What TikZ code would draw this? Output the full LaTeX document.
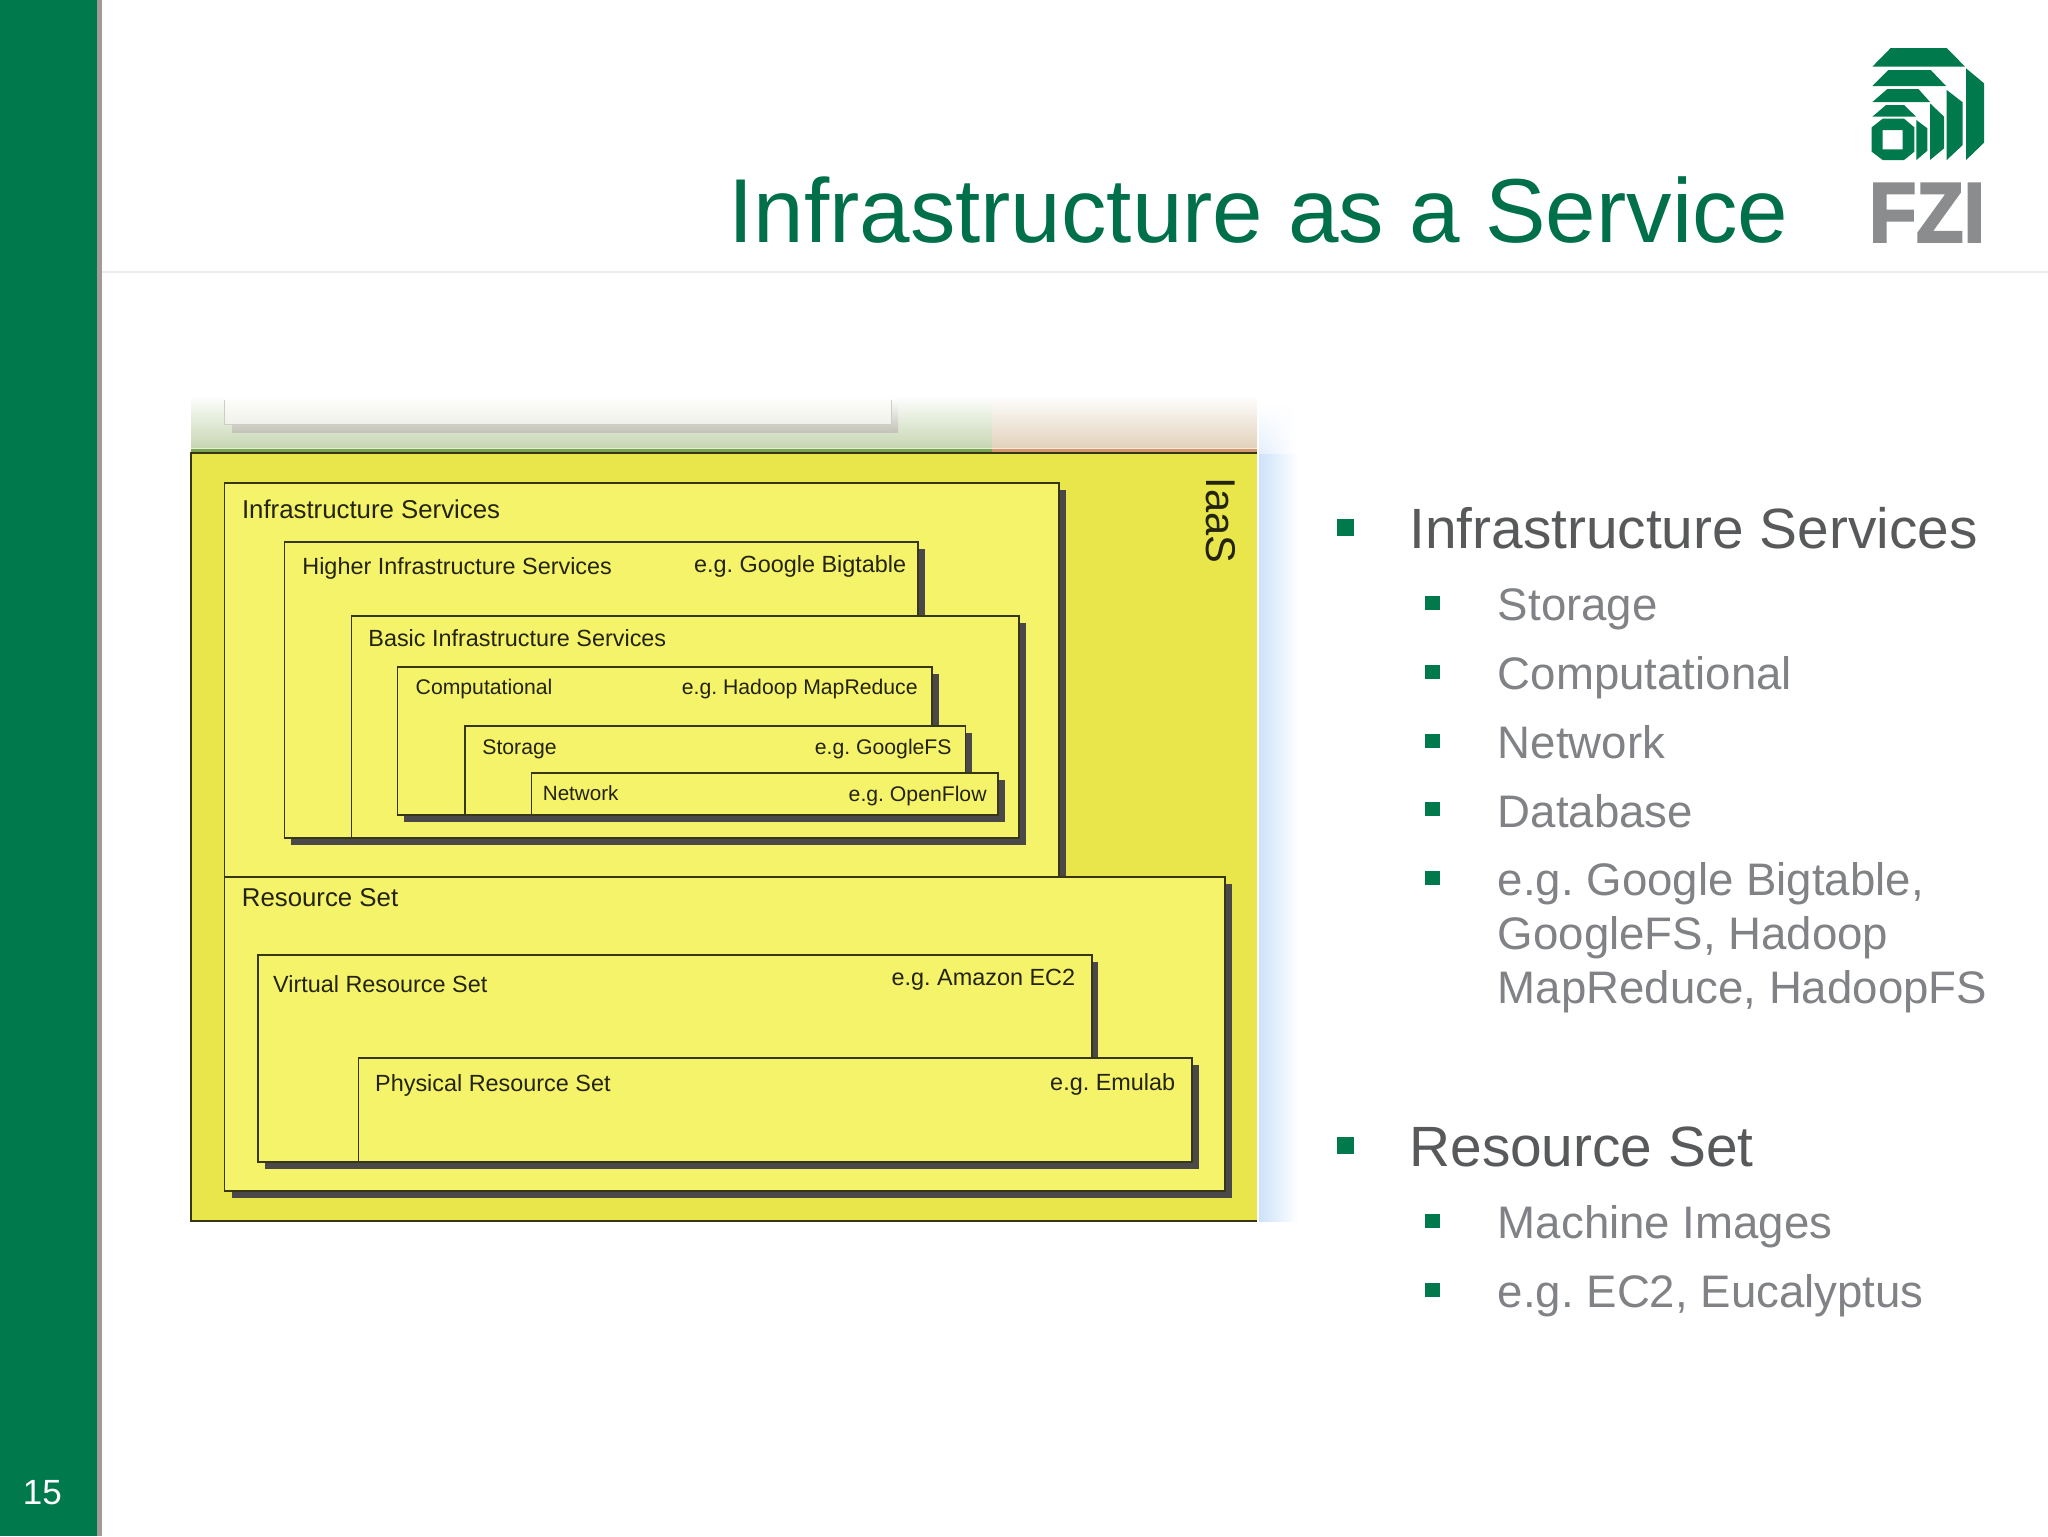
\documentclass[tikz,border=0pt]{standalone}
\usepackage{fontspec}
\usetikzlibrary{fadings}
\setmainfont{Liberation Sans}
\newfontfamily\fzifont{Liberation Sans}[BoldFeatures={FakeBold=3}]
\frenchspacing
\definecolor{fzigreen}{RGB}{0,122,77}
\definecolor{titlegreen}{RGB}{0,112,74}
\definecolor{barGrey}{RGB}{160,155,155}
\definecolor{ruleGrey}{RGB}{236,236,236}
\definecolor{headGrey}{RGB}{88,89,91}
\definecolor{subGrey}{RGB}{128,130,133}
\definecolor{outerY}{RGB}{232,230,74}
\definecolor{boxY}{RGB}{244,243,106}
\definecolor{boxLine}{RGB}{55,55,20}
\definecolor{shadowGrey}{RGB}{74,72,72}
\definecolor{diaText}{RGB}{35,35,15}
\definecolor{logoGrey}{RGB}{138,140,142}
\definecolor{fadeGreen}{RGB}{198,214,178}
\definecolor{fadeOrange}{RGB}{226,210,188}
\definecolor{fadeShadow}{RGB}{195,195,185}
\definecolor{fadeBox}{RGB}{240,241,232}
\definecolor{fadeEdge}{RGB}{205,205,195}
\definecolor{lineGreen}{RGB}{122,163,85}
\definecolor{lineOrange}{RGB}{212,152,110}
\definecolor{paleGreen}{RGB}{225,240,210}
\definecolor{paleOrange}{RGB}{248,232,220}
\definecolor{fadeBlue}{RGB}{205,226,250}
\definecolor{paleBlue}{RGB}{228,239,252}
\tikzset{
  label/.style={anchor=base west,inner sep=0pt,text=diaText},
  rlabel/.style={anchor=base east,inner sep=0pt,text=diaText},
  head/.style={anchor=base west,inner sep=0pt,text=headGrey,font=\fontsize{28.4pt}{33pt}\selectfont},
  sub/.style={anchor=base west,inner sep=0pt,text=subGrey,font=\fontsize{22.8pt}{27pt}\selectfont},
  yfill/.style={fill=boxY,draw=boxLine,line width=0.7pt},
  shadowf/.style={fill=shadowGrey},
  big/.style={font=\fontsize{12.9pt}{15pt}\selectfont},
  mid/.style={font=\fontsize{11.7pt}{14pt}\selectfont},
  small/.style={font=\fontsize{10.6pt}{13pt}\selectfont},
  logo/.style={fill=fzigreen},
}
% l, t, r, b, shadow offset
\newcommand{\ybox}[5]{%
  \fill[shadowf] ({#1+#5},{#2+#5}) rectangle ({#3+#5},{#4+#5});
  \draw[yfill] (#1,#2) rectangle (#3,#4);
}
\begin{document}
\begin{tikzpicture}[x=0.5pt,y=-0.5pt]
\useasboundingbox (0,0) rectangle (2048,1536);
\fill[white] (0,0) rectangle (2048,1536);

% side bar
\fill[fzigreen] (0,0) rectangle (97,1536);
\fill[barGrey] (97,0) rectangle (102,1536);
\node (pageno) [anchor=base west,inner sep=0pt,text=white,font=\fontsize{17.5pt}{20pt}\selectfont] at (22.5,1504) {15};

% title
\fill[ruleGrey] (102,270.5) rectangle (2048,273);
\node (title) [anchor=base west,inner sep=0pt,text=titlegreen,font=\fontsize{45.4pt}{50pt}\selectfont] at (728,242.7) {Infrastructure as a Service};

% logo
\begin{scope}[shift={(1800,20)},x=0.1667pt,y=-0.1667pt]
\fill[logo] (217,140) -- (272,84) -- (440,84) -- (495,140) -- cycle;
\fill[logo] (217,198) -- (265,150) -- (392,150) -- (438,198) -- cycle;
\fill[logo] (217,246) -- (262,207) -- (355,207) -- (390,246) -- cycle;
\fill[logo] (217,290) -- (258,255) -- (312,255) -- (348,290) -- cycle;
\fill[logo,even odd rule] (215,322) -- (248,296) -- (312,296) -- (343,322) -- (343,395) -- (312,420) -- (248,420) -- (215,395) -- cycle
  (248,330) rectangle (308,388);
\fill[logo] (498,145) -- (552,190) -- (552,368) -- (498,420) -- cycle;
\fill[logo] (440,210) -- (488,247) -- (488,375) -- (440,420) -- cycle;
\fill[logo] (390,250) -- (432,290) -- (432,385) -- (390,420) -- cycle;
\fill[logo] (349,300) -- (382,325) -- (382,392) -- (349,420) -- cycle;
\end{scope}
\node (fzi) [anchor=base,inner sep=0pt,text=logoGrey,xscale=0.92,font=\fzifont\bfseries\fontsize{42pt}{45pt}\selectfont] at (1927,241.5) {FZI};

% faded layers above and beside the IaaS block
\shade[top color=white,bottom color=fadeGreen] (191,395) rectangle (992,448);
\shade[top color=white,bottom color=fadeOrange] (992,395) rectangle (1257,448);
\shade[top color=white,bottom color=fadeShadow] (232,398) rectangle (898,432);
\shade[top color=white,bottom color=fadeBox] (224.6,395) rectangle (891,424);
\draw[line width=0.4pt,draw=fadeEdge] (224.6,400) -- (224.6,424) -- (891,424) -- (891,400);
\fill[paleGreen] (191,447.5) rectangle (992,449);
\fill[paleOrange] (992,447.5) rectangle (1257,449);
\fill[lineGreen] (191,449) rectangle (992,453);
\fill[lineOrange] (992,449) rectangle (1257,453);
\shade[left color=fadeBlue,right color=white] (1259,453) rectangle (1298,1221);
\shade[left color=paleBlue,right color=white,path fading=north] (1259,405) rectangle (1295,453);

% IaaS block
\fill[outerY] (191,453) rectangle (1257,1221);
\draw[boxLine,line width=0.7pt] (1257,453) -- (191,453) -- (191,1221) -- (1257,1221);
\node (iaas) [rotate=-90,anchor=base west,inner sep=0pt,text=diaText,font=\fontsize{20.8pt}{24pt}\selectfont] at (1206.5,477.5) {IaaS};

\ybox{224.6}{483}{1059}{877}{6.5}
\node (infra) [label,big] at (241.6,518) {Infrastructure Services};

\ybox{284.3}{542}{918}{838}{7}
\node (higher) [label,mid] at (302,574) {Higher Infrastructure Services};
\node (bigtable) [rlabel,mid] at (906.5,572.7) {e.g. Google Bigtable};

\ybox{351.4}{616}{1019}{838}{6.5}
\node (basic) [label,mid] at (368,646.7) {Basic Infrastructure Services};

\ybox{397.7}{667}{932}{815}{6.5}
\node (comp) [label,small] at (415.3,694.3) {Computational};
\node (mapred) [rlabel,small] at (918,694.3) {e.g. Hadoop MapReduce};

\ybox{465}{726}{965.4}{815}{6.5}
\node (stor) [label,small] at (482,754) {Storage};
\node (gfs) [rlabel,small] at (952,754) {e.g. GoogleFS};

\ybox{531.5}{773}{998}{815}{6.5}
\node (net) [label,small,font=\fontsize{10.3pt}{13pt}\selectfont] at (542.5,800) {Network};
\node (oflow) [rlabel,small] at (987,801.7) {e.g. OpenFlow};

\ybox{224.6}{877}{1225}{1191}{7}
\node (res) [label,big] at (241.5,906) {Resource Set};

\ybox{258}{955}{1091.8}{1162}{6.5}
\node (virt) [label,mid] at (272.8,992) {Virtual Resource Set};
\node (ec2) [rlabel,mid] at (1075.5,985) {e.g. Amazon EC2};

\ybox{358.6}{1058}{1192}{1162}{6.5}
\node (phys) [label,mid] at (374.8,1091.7) {Physical Resource Set};
\node (emu) [rlabel,mid] at (1175.5,1090) {e.g. Emulab};

% bullet list
\fill[fzigreen] (1337,519) rectangle (1354,536);
\node (l1) [head] at (1409,548) {Infrastructure Services};
\fill[fzigreen] (1425,596) rectangle (1439.6,610);
\node (l2) [sub] at (1497.5,620) {Storage};
\fill[fzigreen] (1425,665) rectangle (1439.6,679);
\node (l3) [sub] at (1497.5,689) {Computational};
\fill[fzigreen] (1425,734) rectangle (1439.6,748);
\node (l4) [sub] at (1497.5,758) {Network};
\fill[fzigreen] (1425,802) rectangle (1439.6,816);
\node (l5) [sub] at (1497.5,827) {Database};
\fill[fzigreen] (1425,871) rectangle (1439.6,885);
\node (l6a) [sub] at (1497.5,895.5) {e.g. Google Bigtable,};
\node (l6b) [sub] at (1497.5,949.5) {GoogleFS, Hadoop};
\node (l6c) [sub] at (1497.5,1003.5) {MapReduce, HadoopFS};
\fill[fzigreen] (1337,1137) rectangle (1354,1154);
\node (l7) [head] at (1409,1166) {Resource Set};
\fill[fzigreen] (1425,1214) rectangle (1439.6,1228);
\node (l8) [sub] at (1497.5,1238) {Machine Images};
\fill[fzigreen] (1425,1283) rectangle (1439.6,1297);
\node (l9) [sub] at (1497.5,1307) {e.g. EC2, Eucalyptus};
\end{tikzpicture}
\end{document}
